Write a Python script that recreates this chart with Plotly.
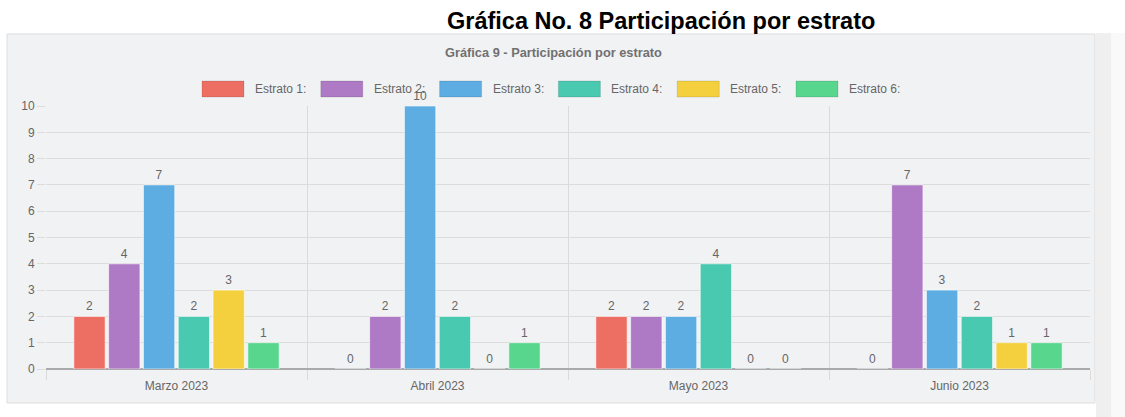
import plotly.graph_objects as go

categories = ["Marzo 2023", "Abril 2023", "Mayo 2023", "Junio 2023"]
series_names = ["Estrato 1:", "Estrato 2:", "Estrato 3:", "Estrato 4:", "Estrato 5:", "Estrato 6:"]
estrato1 = [2, 0, 2, 0]
estrato2 = [4, 2, 2, 7]
estrato3 = [7, 10, 2, 3]
estrato4 = [2, 2, 4, 2]
estrato5 = [3, 0, 0, 1]
estrato6 = [1, 1, 0, 1]
y_ticks = list(range(0, 11))

colors = ["#ED6F63", "#AF7AC5", "#5DADE2", "#48C9B0", "#F4D03F", "#58D68D"]
series = [estrato1, estrato2, estrato3, estrato4, estrato5, estrato6]

W, H = 1125, 417
L, R, T, B = 46, 35, 106, 48
PW, PH = W - L - R, H - T - B


def px(x):
    return (x - L) / PW


def py(y):
    return (H - B - y) / PH


FONT = "Liberation Sans, Arial, Helvetica, sans-serif"

fig = go.Figure()
for name, vals, col in zip(series_names, series, colors):
    fig.add_trace(go.Bar(
        x=categories, y=vals, name=name,
        marker=dict(color=col, line=dict(color="rgba(255,255,255,0.6)", width=1)),
        text=[str(v) for v in vals], textposition="outside",
        textfont=dict(family=FONT, size=12, color="#666666"),
        cliponaxis=False, showlegend=False,
    ))

shapes = []
# panel background
shapes.append(dict(type="rect", xref="paper", yref="paper", layer="below",
                   x0=px(7), x1=px(1095), y0=py(403), y1=py(34),
                   fillcolor="#F1F2F4", line=dict(color="#DDDDDD", width=1)))
# right strip
shapes.append(dict(type="rect", xref="paper", yref="paper", layer="below",
                   x0=px(1096), x1=px(1111), y0=py(417), y1=py(33),
                   fillcolor="#EFEFEF", line=dict(width=0)))
shapes.append(dict(type="rect", xref="paper", yref="paper", layer="below",
                   x0=px(1111), x1=px(1126), y0=py(417), y1=py(33),
                   fillcolor="#F9F9F9", line=dict(width=0)))

annotations = []
annotations.append(dict(xref="paper", yref="paper", x=px(661), y=py(21),
                        text="<b>Gráfica No. 8 Participación por estrato</b>",
                        showarrow=False, xanchor="center", yanchor="middle",
                        font=dict(family=FONT, size=23.5, color="#000000")))
annotations.append(dict(xref="paper", yref="paper", x=px(553), y=py(53),
                        text="<b>Gráfica 9 - Participación por estrato</b>",
                        showarrow=False, xanchor="center", yanchor="middle",
                        font=dict(family=FONT, size=12.8, color="#707070")))

# custom legend
lx0 = 202
step = 118.8
for i, (name, col) in enumerate(zip(series_names, colors)):
    x0 = lx0 + i * step
    shapes.append(dict(type="rect", xref="paper", yref="paper", layer="above",
                       x0=px(x0), x1=px(x0 + 42), y0=py(97), y1=py(81),
                       fillcolor=col, line=dict(color="rgba(0,0,0,0.12)", width=1)))
    annotations.append(dict(xref="paper", yref="paper", x=px(x0 + 51), y=py(89),
                            text=name, showarrow=False, xanchor="left", yanchor="middle",
                            font=dict(family=FONT, size=12, color="#666666")))

fig.update_layout(
    width=W, height=H,
    margin=dict(l=L, r=R, t=T, b=B),
    paper_bgcolor="#FFFFFF", plot_bgcolor="rgba(0,0,0,0)",
    barmode="group", bargap=0.2, bargroupgap=0.1,
    shapes=shapes, annotations=annotations,
    font=dict(family=FONT, size=12, color="#666666"),
    xaxis=dict(type="category", tickson="boundaries", showgrid=True,
               gridcolor="#DADADA", gridwidth=1, ticks="outside", ticklen=10,
               tickcolor="#DADADA", showline=False, ticklabelstandoff=8,
               tickfont=dict(family=FONT, size=12, color="#666666")),
    yaxis=dict(range=[0, 10], tickvals=y_ticks, showgrid=True, gridcolor="#DCDCDC",
               gridwidth=1, ticks="outside", ticklen=8, tickcolor="#DCDCDC",
               zeroline=True, zerolinecolor="#AAAAAA", zerolinewidth=1.5,
               showline=False,
               tickfont=dict(family=FONT, size=12, color="#666666")),
)

fig.write_html("out.html", config={"displayModeBar": False},
               post_script="document.body.style.margin='0';document.body.style.overflow='hidden';")
